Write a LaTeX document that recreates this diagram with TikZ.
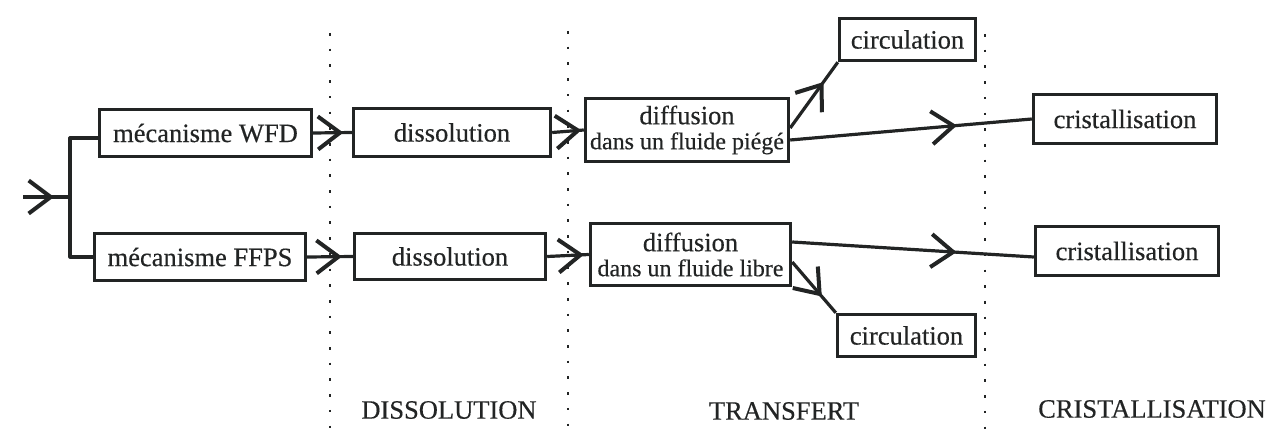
\documentclass[tikz,border=0pt]{standalone}
\usepackage{fontspec}
\setmainfont{Liberation Serif}[FakeBold=0.4]
\usetikzlibrary{arrows.meta,decorations.markings}
\definecolor{ink}{RGB}{34,36,36}
\tikzset{
  chev/.tip={Straight Barb[length=22pt,width=33pt,line width=4pt]},
  box/.style={draw=ink,line width=3.4pt,inner sep=0pt,text=ink,
    font=\fontsize{26.5}{25}\selectfont,align=center},
  conn/.style={draw=ink,line width=3.2pt,line join=round,
    decoration={markings,mark=at position #1 with {\arrow{chev}}},
    postaction={decorate}},
  sep/.style={draw=ink,line width=2.6pt,dash pattern=on 2.6pt off 13.1pt},
  lab/.style={text=ink,font=\fontsize{26.5}{26}\selectfont,inner sep=0pt}
}
\begin{document}
\begin{tikzpicture}[x=1pt,y=-1pt]
\useasboundingbox (0,0) rectangle (1271,436);
% separators
\coordinate (s1a) at (330,33); \coordinate (s1b) at (330,434);
\coordinate (s2a) at (568,31); \coordinate (s2b) at (568,434);
\coordinate (s3a) at (985,34); \coordinate (s3b) at (985,434);
\draw[sep] (s1a) -- (s1b);
\draw[sep] (s2a) -- (s2b);
\draw[sep] (s3a) -- (s3b);
% boxes
\node[box,minimum width=212pt,minimum height=47pt] (wfd) at (205.5,133) {mécanisme WFD};
\node[box,minimum width=211pt,minimum height=47pt] (ffps) at (200,257) {mécanisme FFPS};
\node[box,minimum width=197pt,minimum height=48pt] (dis1) at (452,132.5) {dissolution};
\node[box,minimum width=191pt,minimum height=46pt] (dis2) at (450,256.5) {dissolution};
\node[box,minimum width=203pt,minimum height=63pt] (dif1) at (687,130)
  {diffusion\\{\fontsize{24}{25}\selectfont dans un fluide piégé}};
\node[box,minimum width=200pt,minimum height=62pt] (dif2) at (690.5,254.5)
  {diffusion\\{\fontsize{24}{25}\selectfont dans un fluide libre}};
\node[box,minimum width=136pt,minimum height=42pt] (cir1) at (907.5,39.5) {circulation};
\node[box,minimum width=138pt,minimum height=42pt] (cir2) at (906.5,335.5) {circulation};
\node[box,minimum width=183pt,minimum height=49pt] (cri1) at (1125,119) {cristallisation};
\node[box,minimum width=183pt,minimum height=49pt] (cri2) at (1127,251) {cristallisation};
% input
\coordinate (in) at (23,197);
\coordinate (br) at (70,197);
\draw[conn=0.66] (in) -- (br);
\draw[draw=ink,line width=3.2pt,line join=round] ([yshift=-5pt]wfd.west) -| (br) |- (ffps.west);
% connectors
\draw[conn=0.78] (wfd.east) -- (dis1.west);
\draw[conn=0.76] (ffps.east) -- (dis2.west);
\draw[conn=0.92] (dis1.east) -- (dif1.west);
\draw[conn=0.88] (dis2.east) -- (dif2.west);
\draw[conn=0.7] ([yshift=2pt]dif1.east) -- (cir1.south west);
\draw[conn=0.69] ([yshift=-10pt]dif1.east) -- (cri1.west);
\draw[conn=0.68] ([yshift=12.5pt]dif2.east) -- ([yshift=-6pt]cri2.west);
\draw[conn=0.68] ([yshift=-7.5pt]dif2.east) -- (cir2.north west);
% phase labels
\node[lab] (l1) at (449,410) {DISSOLUTION};
\node[lab] (l2) at (784,411) {TRANSFERT};
\node[lab] (l3) at (1152,409) {CRISTALLISATION};
\end{tikzpicture}
\end{document}
